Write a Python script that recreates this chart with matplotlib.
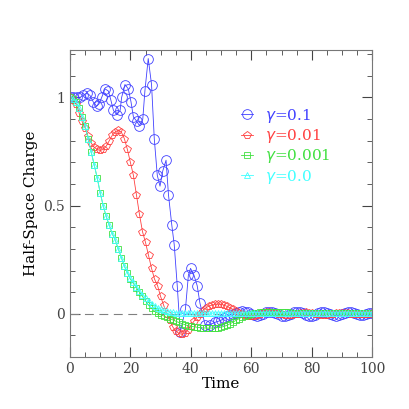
import numpy as np
import matplotlib.pyplot as plt
from matplotlib.ticker import MultipleLocator

plt.rcParams['font.family'] = 'DejaVu Serif'

# gamma = 0.1 (irregular sampling)
blue_t = [0, 1, 2.2, 3.3, 4.4, 5.5, 6.6, 7.7, 8.8, 9.6, 10.5, 11.6, 12.7, 13.5, 14.4,
          15.5, 16.6, 17.1, 18.2, 19.3, 20.2, 21.0, 22.1, 23.0, 24.1, 24.8, 25.9, 27.0,
          27.9, 28.9, 29.8, 30.7, 31.8, 32.6, 33.7, 34.5, 35.5, 36.5, 38.2, 39.2, 39.9,
          41.0, 42.1, 43.0, 44.7, 46.3, 47.9] + list(range(49, 101))
blue_v = [1.0, 1.0, 1.0, 1.0, 1.01, 1.02, 1.01, 0.98, 0.96, 0.97, 1.0, 1.04, 1.03, 0.99, 0.94,
          0.92, 0.94, 1.0, 1.06, 1.04, 0.98, 0.91, 0.89, 0.87, 0.90, 1.03, 1.18, 1.06,
          0.81, 0.64, 0.59, 0.66, 0.71, 0.55, 0.41, 0.32, 0.13, -0.085, 0.02, 0.18, 0.21,
          0.18, 0.13, 0.05, -0.05, -0.05, -0.04,
          -0.035, -0.03, -0.02, -0.01, -0.005, 0.0, 0.005, 0.01, 0.012, 0.01, 0.006, 0.0,
          -0.005, -0.008, -0.006, 0.0, 0.006, 0.01, 0.008, 0.003, -0.003, -0.008, -0.01,
          -0.007, 0.0, 0.006, 0.009, 0.007, 0.002, -0.004, -0.008, -0.008, -0.004, 0.002,
          0.007, 0.008, 0.005, 0.0, -0.005, -0.008, -0.006, -0.001, 0.004, 0.007, 0.006,
          0.002, -0.003, -0.006, -0.005, -0.001, 0.003, 0.005]

t = list(range(0, 101))

red_v = [1.0, 0.99, 0.97, 0.93, 0.89, 0.86, 0.82, 0.79, 0.77, 0.76, 0.755, 0.76, 0.775, 0.80,
         0.825, 0.84, 0.85, 0.84, 0.81, 0.76,
         0.70, 0.64, 0.55, 0.46, 0.38, 0.33, 0.27, 0.21, 0.16, 0.13, 0.08, 0.04, 0.0, -0.03,
         -0.06, -0.08, -0.09, -0.095, -0.09, -0.075, -0.055, -0.035, -0.015, 0.0, 0.015,
         0.028, 0.036,
         0.04, 0.044, 0.045, 0.044, 0.04, 0.034, 0.027, 0.02, 0.012, 0.005, 0.0, -0.005,
         -0.008, -0.01,
         -0.008, -0.005, 0, 0.004, 0.006, 0.006, 0.004, 0.002, 0, -0.003, -0.005, -0.006,
         -0.005, -0.003, 0, 0.003, 0.005, 0.006, 0.005, 0.003, 0, -0.003, -0.004, -0.005,
         -0.004, -0.002, 0, 0.002, 0.003, 0.004, 0.003, 0.002, 0, -0.002, -0.003, -0.003,
         -0.002, 0, 0.001, 0.002]

green_v = [1.0, 0.995, 0.98, 0.95, 0.91, 0.87, 0.81, 0.75, 0.69, 0.63, 0.56, 0.50, 0.45, 0.41,
           0.37, 0.34, 0.30, 0.26, 0.22, 0.19, 0.16, 0.14, 0.12, 0.10, 0.08, 0.06, 0.04, 0.025,
           0.012, 0.004, -0.004, -0.01, -0.016, -0.022, -0.028, -0.034, -0.04, -0.045, -0.05,
           -0.055, -0.057,
           -0.06, -0.062, -0.064, -0.065, -0.066, -0.066, -0.066, -0.065,
           -0.064, -0.062, -0.058, -0.053, -0.046, -0.038, -0.03, -0.022, -0.015, -0.009,
           -0.004, 0.0,
           0.003, 0.005, 0.007, 0.008, 0.009, 0.01, 0.01, 0.01, 0.009, 0.008, 0.007, 0.006,
           0.005, 0.004, 0.004, 0.003, 0.003, 0.003, 0.003, 0.004, 0.004, 0.005, 0.005, 0.005,
           0.005, 0.004, 0.004, 0.003, 0.003, 0.003, 0.003, 0.004, 0.004, 0.005, 0.005, 0.005,
           0.004, 0.004, 0.003, 0.003]

cyan_v = [1.0, 0.995, 0.98, 0.95, 0.91, 0.87, 0.81, 0.75, 0.69, 0.63, 0.56, 0.50, 0.45, 0.41,
          0.37, 0.34, 0.30, 0.26, 0.22, 0.19, 0.165, 0.145, 0.125,
          0.105, 0.088, 0.072, 0.058, 0.047, 0.037, 0.029, 0.022, 0.016, 0.012, 0.009,
          0.007, 0.005, 0.004, 0.003, 0.003, 0.003, 0.003,
          0.003, 0.003, 0.002, 0.002, 0.002, 0.003, 0.003, 0.004, 0.004, 0.004, 0.004, 0.004,
          0.003, 0.003, 0.003, 0.003, 0.004, 0.004, 0.004, 0.005, 0.005, 0.005, 0.005, 0.005,
          0.004, 0.004, 0.004, 0.004, 0.004, 0.004, 0.004, 0.004, 0.004, 0.004, 0.004, 0.004,
          0.004, 0.004, 0.004, 0.004, 0.004, 0.004, 0.004, 0.004, 0.004, 0.004, 0.004, 0.004,
          0.004, 0.004, 0.004, 0.004, 0.004, 0.004, 0.004, 0.004, 0.004, 0.004, 0.004, 0.004]

labels = [r'$\gamma$=0.1', r'$\gamma$=0.01', r'$\gamma$=0.001', r'$\gamma$=0.0']
colors = ['#4040ff', '#ff4040', '#40e040', '#40ffff']

fig = plt.figure(figsize=(4.09, 4.09), dpi=100)
ax = fig.add_axes([0.171, 0.127, 0.739, 0.751])

ax.axhline(0, color='gray', lw=0.8, ls=(0, (8, 5)))
series = [(blue_t, blue_v, 'o', 7), (t, red_v, 'p', 6), (t, green_v, 's', 4.5), (t, cyan_v, '^', 4)]
for (xs, ys, m, ms), c, lab in zip(series, colors, labels):
    ax.plot(xs, ys, color=c, lw=0.6, marker=m, ms=ms, mfc='none', mew=0.6, label=lab)

ax.set_xlim(0, 100)
ax.set_ylim(-0.2, 1.22)
ax.set_xticks([0, 20, 40, 60, 80, 100])
ax.set_yticks([0, 0.5, 1])
ax.set_yticklabels(['0', '0.5', '1'])
ax.xaxis.set_minor_locator(MultipleLocator(5))
ax.yaxis.set_minor_locator(MultipleLocator(0.1))
ax.tick_params(which='both', direction='in', top=True, right=True, labelsize=10, colors='#444444')
ax.tick_params(which='major', length=7)
ax.tick_params(which='minor', length=3.5)
for s in ax.spines.values():
    s.set_color('#777777')
ax.set_xlabel('Time', fontsize=11, labelpad=1)
ax.set_ylabel('Half-Space Charge', fontsize=11)

leg = ax.legend(loc='upper left', bbox_to_anchor=(0.52, 0.86), frameon=False, fontsize=11,
                handlelength=0.8, handletextpad=0.8, labelspacing=0.15, numpoints=1)
for txt, c in zip(leg.get_texts(), colors):
    txt.set_color(c)

fig.savefig('out.png', dpi=100)
